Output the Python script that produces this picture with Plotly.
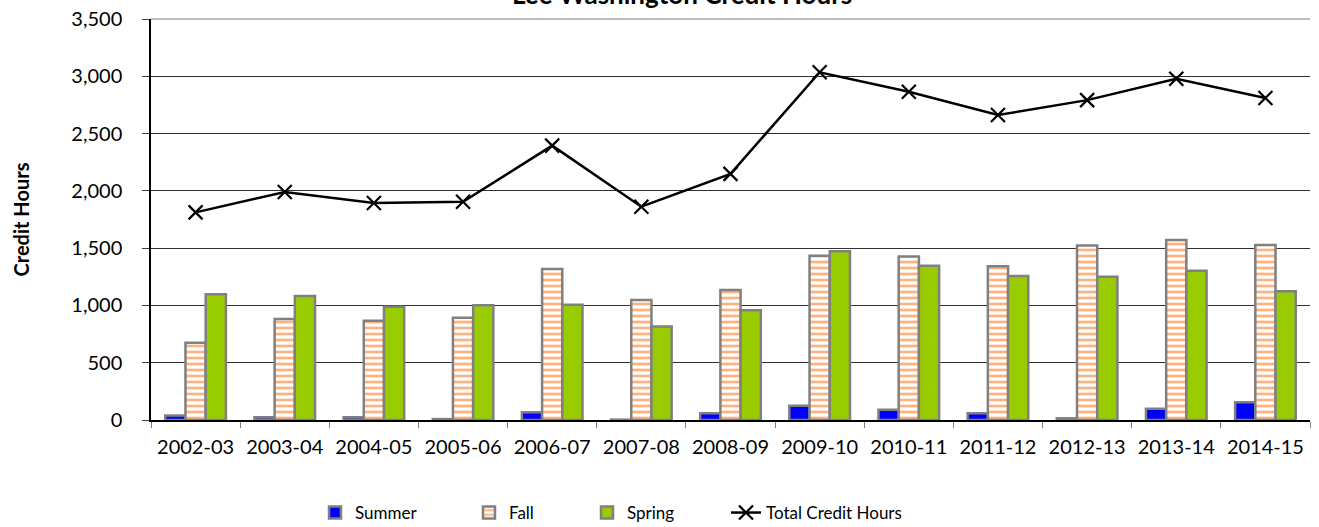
import plotly.graph_objects as go

years = ["2002-03", "2003-04", "2004-05", "2005-06", "2006-07", "2007-08", "2008-09",
         "2009-10", "2010-11", "2011-12", "2012-13", "2013-14", "2014-15"]
summer = [40, 25, 25, 8, 67, 3, 58, 125, 90, 58, 15, 99, 155]
fall = [675, 882, 867, 893, 1318, 1048, 1135, 1434, 1426, 1342, 1522, 1571, 1528]
spring = [1097, 1083, 989, 1001, 1007, 815, 957, 1473, 1347, 1257, 1251, 1303, 1123]
total = [1812, 1990, 1894, 1905, 2395, 1862, 2148, 3035, 2865, 2662, 2792, 2978, 2810]

FONT = "Lato"
outline = dict(color="#808080", width=2.5)

fig = go.Figure()
fig.add_trace(go.Bar(name="Summer", x=years, y=summer, legend="legend",
                     marker=dict(color="#0000FF", line=outline)))
fig.add_trace(go.Bar(name="Fall", x=years, y=fall, legend="legend2",
                     marker=dict(color="white", line=outline,
                                 pattern=dict(shape="-", fgcolor="#FF6600", bgcolor="white",
                                              size=6, solidity=0.45, fillmode="overlay"))))
fig.add_trace(go.Bar(name="Spring", x=years, y=spring, legend="legend3",
                     marker=dict(color="#99CC00", line=outline)))
fig.add_trace(go.Scatter(name="Total Credit Hours", x=years, y=total, mode="lines+markers",
                         legend="legend4",
                         line=dict(color="black", width=2.5),
                         marker=dict(symbol="x-thin", size=14, color="black",
                                     line=dict(color="black", width=2.2))))

W, H = 1319, 527
PL, PW, PB, PH = 151, 1159, 420, 401


def leg(text_start_px):
    return dict(orientation="h", xref="container", yref="container",
                x=(text_start_px - 45) / W, xanchor="left",
                y=(H - 513) / H, yanchor="middle",
                font=dict(family=FONT, size=17, color="black"), bgcolor="rgba(0,0,0,0)")


fig.update_layout(
    width=W, height=H,
    margin=dict(l=PL, r=9, t=19, b=107),
    paper_bgcolor="white", plot_bgcolor="white",
    barmode="group", bargap=0.32, bargroupgap=0.0,
    font=dict(family=FONT, size=17, color="black"),
    legend=leg(360), legend2=leg(514), legend3=leg(632), legend4=leg(771),
    showlegend=True,
    shapes=[dict(type="line", xref="paper", yref="paper", x0=0, x1=1, y0=1, y1=1,
                 line=dict(color="#A6A6A6", width=1.5), layer="below")],
    annotations=[dict(text="<b>Lee Washington Credit Hours</b>", xref="paper", yref="paper",
                      x=(682 - PL) / PW, y=1 + 25 / PH, xanchor="center", yanchor="middle",
                      showarrow=False, font=dict(family=FONT, size=26, color="black"))],
)
fig.update_xaxes(
    type="category", range=[-0.5, len(years) - 0.5],
    showline=True, linecolor="black", linewidth=1.5,
    ticks="outside", tickson="boundaries", ticklen=6, tickcolor="#808080",
    showgrid=False, tickfont=dict(family=FONT, size=20, color="black"),
    tickangle=0, ticklabelstandoff=8, automargin=False,
)
fig.update_yaxes(
    range=[0, 3500], dtick=500, tickformat=",d",
    showline=True, linecolor="black", linewidth=1.5,
    ticks="outside", ticklen=7, tickcolor="#404040", ticklabelstandoff=16,
    showgrid=True, gridcolor="#303030", gridwidth=1,
    zeroline=False, automargin=False,
    title=dict(text="<b>Credit Hours</b>", font=dict(family=FONT, size=20), standoff=36),
    tickfont=dict(family=FONT, size=20, color="black"),
)
fig.write_html("out.html", config={"displayModeBar": False},
               post_script="document.body.style.margin='0';")
